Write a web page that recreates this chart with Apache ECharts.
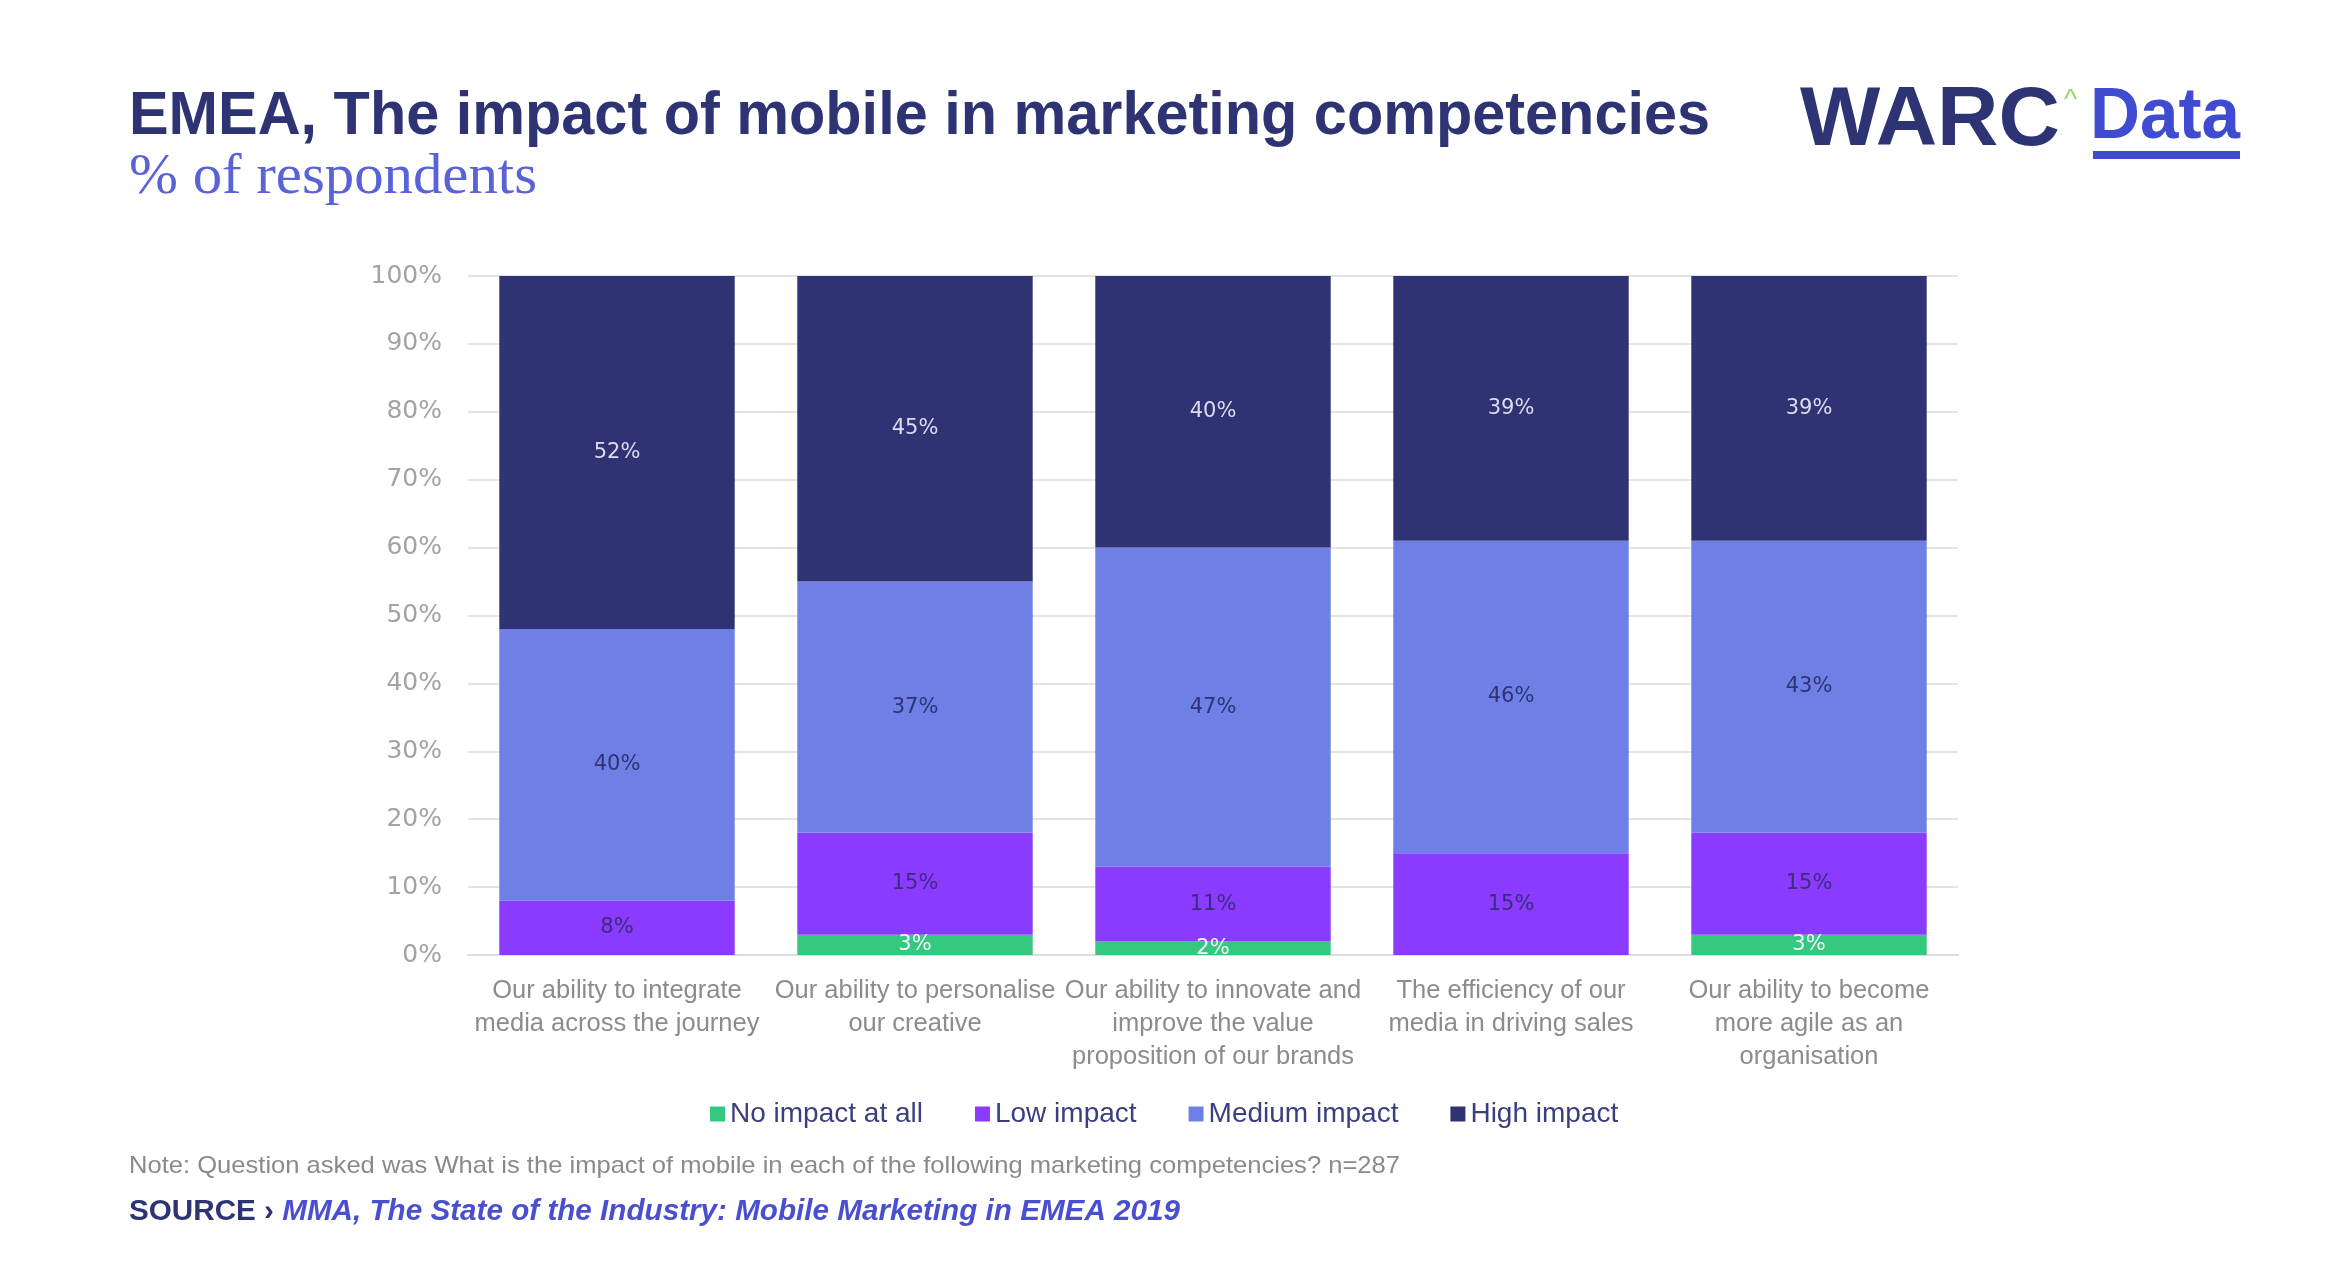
<!DOCTYPE html>
<html><head><meta charset="utf-8">
<script src="https://cdn.jsdelivr.net/npm/echarts@6/dist/echarts.min.js"></script>
<style>html,body{margin:0;padding:0;background:#fff}#c{width:2328px;height:1283px}</style>
</head><body><div id="c"></div>
<script>
const categories = [
  "Our ability to integrate\nmedia across the journey",
  "Our ability to personalise\nour creative",
  "Our ability to innovate and\nimprove the value\nproposition of our brands",
  "The efficiency of our\nmedia in driving sales",
  "Our ability to become\nmore agile as an\norganisation"
];
const seriesNames = ["No impact at all", "Low impact", "Medium impact", "High impact"];
const noImpact = [0, 3, 2, 0, 3];
const lowImpact = [8, 15, 11, 15, 15];
const mediumImpact = [40, 37, 47, 46, 43];
const highImpact = [52, 45, 40, 39, 39];
const yTicks = [0, 10, 20, 30, 40, 50, 60, 70, 80, 90, 100];

const colors = ["#35c97f", "#8a3bff", "#6e7fe6", "#2f3373"];
const labelColors = ["#f4f4ff", "#3a2d7a", "#2f3373", "#dcdcf0"];

const ctx = document.createElement('canvas').getContext('2d');
function fit(text, font, w) { ctx.font = font; return w / ctx.measureText(text).width; }

const titleFont = 'bold 62px "Liberation Sans"';
const titleText = "EMEA, The impact of mobile in marketing competencies";
const subFont = '56px "Liberation Serif"';
const subText = "% of respondents";
const warcFont = 'bold 84px "Liberation Sans"';
const dataFont = 'bold 72px "Liberation Sans"';
const noteFont = '24px "Liberation Sans"';
const noteText = "Note: Question asked was What is the impact of mobile in each of the following marketing competencies? n=287";
const srcA = "SOURCE › ", srcB = "MMA, The State of the Industry: Mobile Marketing in EMEA 2019";
const srcFontA = 'bold 29px "Liberation Sans"', srcFontB = 'italic bold 29px "Liberation Sans"';
ctx.font = srcFontA; const wa = ctx.measureText(srcA).width;
ctx.font = srcFontB; const wb = ctx.measureText(srcB).width;
const srcScale = 1051 / (wa + wb);

function T(x, y, text, font, fill, sx, extra) {
  return Object.assign({ type: 'text', x: x, y: y, scaleX: sx || 1,
    style: { text: text, font: font, fill: fill, align: 'left', verticalAlign: 'middle', textAlign: 'left', textVerticalAlign: 'middle' } }, extra || {});
}

const data = [noImpact, lowImpact, mediumImpact, highImpact];
const series = seriesNames.map((n, i) => ({
  name: n, type: 'bar', stack: 'total', data: data[i],
  barCategoryGap: '21%',
  itemStyle: { color: colors[i] },
  label: { show: true, position: 'inside', color: labelColors[i], fontFamily: 'DejaVu Sans', fontSize: 21,
    formatter: p => p.value > 0 ? p.value + '%' : '' }
}));

const chart = echarts.init(document.getElementById('c'), null, { renderer: 'canvas' });
chart.setOption({
  animation: false,
  backgroundColor: '#ffffff',
  color: colors,
  grid: { left: 468, right: 370, top: 276, bottom: 328, containLabel: false },
  legend: {
    data: seriesNames, left: 705, top: 1095, itemWidth: 15, itemHeight: 15, itemGap: 52,
    icon: 'rect', textStyle: { color: '#3b3f7c', fontFamily: 'Liberation Sans', fontSize: 28 }
  },
  xAxis: {
    type: 'category', data: categories,
    axisLine: { show: true, lineStyle: { color: '#dedede', width: 2 } },
    axisTick: { show: false },
    axisLabel: { color: '#8c8c8c', fontFamily: 'Liberation Sans', fontSize: 25.5, lineHeight: 33, margin: 19, interval: 0, verticalAlign: 'top' }
  },
  yAxis: {
    type: 'value', min: 0, max: 100, interval: 10,
    axisLine: { show: false }, axisTick: { show: false },
    splitLine: { lineStyle: { color: '#e4e4e4', width: 2 } },
    axisLabel: { color: '#a3a3a3', fontFamily: 'DejaVu Sans', fontSize: 25, margin: 26, formatter: v => yTicks.includes(v) ? v + '%' : '' }
  },
  series: series,
  graphic: [
    T(129, 117, titleText, titleFont, '#2e3374', fit(titleText, titleFont, 1581)),
    T(129, 178, subText, subFont, '#5a62d8', fit(subText, subFont, 408)),
    T(1800, 122, "WARC", warcFont, '#2e3374', fit("WARC", warcFont, 260)),
    T(2064, 100, "^", '28px "Liberation Sans"', '#9ad46a', 1),
    T(2090, 118, "Data", dataFont, '#3f4bd0', fit("Data", dataFont, 150)),
    { type: 'rect', shape: { x: 2093, y: 151, width: 147, height: 8 }, style: { fill: '#3f4bd0' } },
    T(129, 1166, noteText, noteFont, '#8a8a8a', fit(noteText, noteFont, 1271)),
    { type: 'text', x: 129, y: 1212, scaleX: srcScale,
      style: { text: '{a|' + srcA + '}{b|' + srcB + '}', align: 'left', verticalAlign: 'middle', textAlign: 'left', textVerticalAlign: 'middle',
        rich: { a: { font: srcFontA, fill: '#2e3374', color: '#2e3374' }, b: { font: srcFontB, fill: '#4a4fd0', color: '#4a4fd0' } } } }
  ]
});
</script></body></html>
